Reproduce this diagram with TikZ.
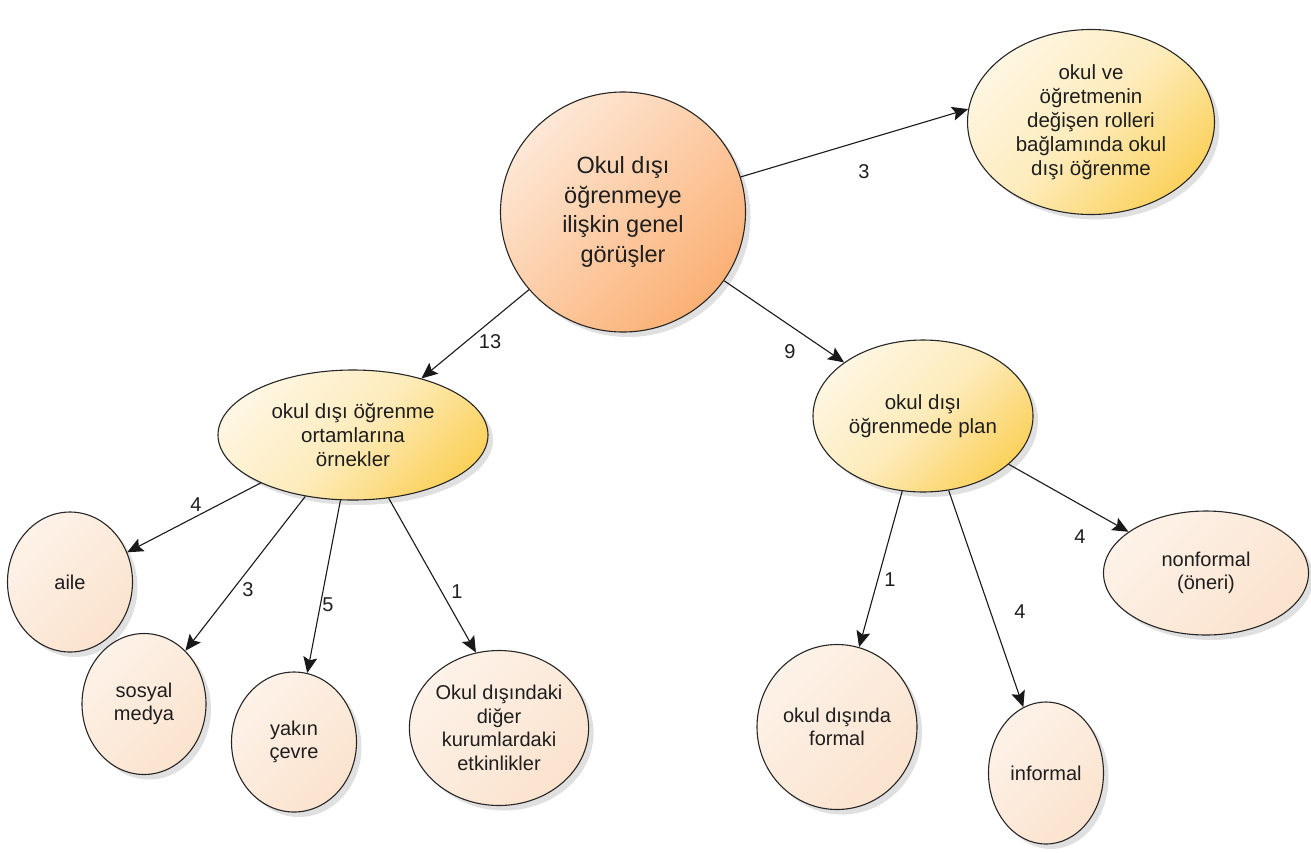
\documentclass[tikz,border=0pt]{standalone}
\usepackage{fontspec}
\setmainfont{Liberation Sans}
\usetikzlibrary{shapes.geometric,arrows.meta,shadows}
\definecolor{txt}{HTML}{1E1E1E}
\definecolor{cLight}{HTML}{FDE8D6}
\definecolor{cDark}{HTML}{FBB074}
\definecolor{yLight}{HTML}{FEF6E2}
\definecolor{yDark}{HTML}{FBD25E}
\definecolor{lLight}{HTML}{FDF2E8}
\definecolor{lDark}{HTML}{FBE3CE}
\tikzset{
  bubble/.style={ellipse, draw=black!85, line width=1.1pt, inner sep=0pt,
    align=center, text=txt, font=\fontsize{20}{23.5}\selectfont,
    drop shadow={shadow xshift=5pt, shadow yshift=-5pt, opacity=0.12, fill=black}},
  mainnode/.style={bubble, top color=cLight, bottom color=cDark, middle color=cLight!50!cDark, shading angle=45,
    font=\fontsize{23.5}{29.5}\selectfont},
  midnode/.style={bubble, top color=yLight, bottom color=yDark, middle color=yLight!70!yDark, shading angle=45,
    font=\fontsize{20.5}{24}\selectfont},
  leafnode/.style={bubble, top color=lLight, bottom color=lDark, shading angle=45},
  arr/.style={line width=1.1pt, draw=black!90, -{Stealth[length=16pt, width=14pt, inset=3pt]}},
  lbl/.style={font=\fontsize{20}{22}\selectfont, text=txt, inner sep=0pt}
}
\begin{document}
\begin{tikzpicture}[x=1pt, y=-1pt]
\useasboundingbox (0,0) rectangle (1311,852);
% nodes
\node[mainnode, minimum width=245pt, minimum height=240pt] (c) at (623,212) {Okul dışı\\öğrenmeye\\ilişkin genel\\görüşler};
\node[midnode, minimum width=247pt, minimum height=185pt] (tr) at (1091,122) {okul ve\\öğretmenin\\değişen rolleri\\bağlamında okul\\dışı öğrenme};
\node[midnode, minimum width=270pt, minimum height=130pt] (lm) at (353,435) {okul dışı öğrenme\\ortamlarına\\örnekler};
\node[midnode, minimum width=220pt, minimum height=152pt] (rm) at (923,416) {okul dışı\\öğrenmede plan};
\node[leafnode, minimum width=125pt, minimum height=140pt] (aile) at (70,582) {aile};
\node[leafnode, minimum width=124pt, minimum height=141pt] (sm) at (144,704) {sosyal\\medya};
\node[leafnode, minimum width=125pt, minimum height=140pt] (yc) at (294,742) {yakın\\çevre};
\node[leafnode, minimum width=178pt, minimum height=155pt] (od) at (499,728) {Okul dışındaki\\diğer\\kurumlardaki\\etkinlikler};
\node[leafnode, minimum width=160pt, minimum height=165pt] (fo) at (837,727) {okul dışında\\formal};
\node[leafnode, minimum width=115pt, minimum height=142pt] (inf) at (1046,773) {informal};
\node[leafnode, minimum width=205pt, minimum height=124pt] (nf) at (1206,573) {nonformal\\(öneri)};
% connectors
\draw[arr] (c) -- (tr.174);
\draw[arr] (c) -- (lm);
\draw[arr] (c) -- (rm);
\draw[arr] (lm) -- (aile);
\draw[arr] (lm) -- (sm);
\draw[arr] (lm) -- (yc);
\draw[arr] (lm) -- (od.107);
\draw[arr] (rm) -- (fo);
\draw[arr] (rm) -- (inf);
\draw[arr] (rm) -- (nf.152);
% labels
\node[lbl] (l1) at (864,172) {3};
\node[lbl] (l2) at (490,342) {13};
\node[lbl] (l3) at (790,352) {9};
\node[lbl] (l4) at (196,505) {4};
\node[lbl] (l5) at (248,590) {3};
\node[lbl] (l6) at (328,605) {5};
\node[lbl] (l7) at (457,592) {1};
\node[lbl] (l8) at (890,580) {1};
\node[lbl] (l9) at (1020,612) {4};
\node[lbl] (l10) at (1080,537) {4};
\end{tikzpicture}
\end{document}
